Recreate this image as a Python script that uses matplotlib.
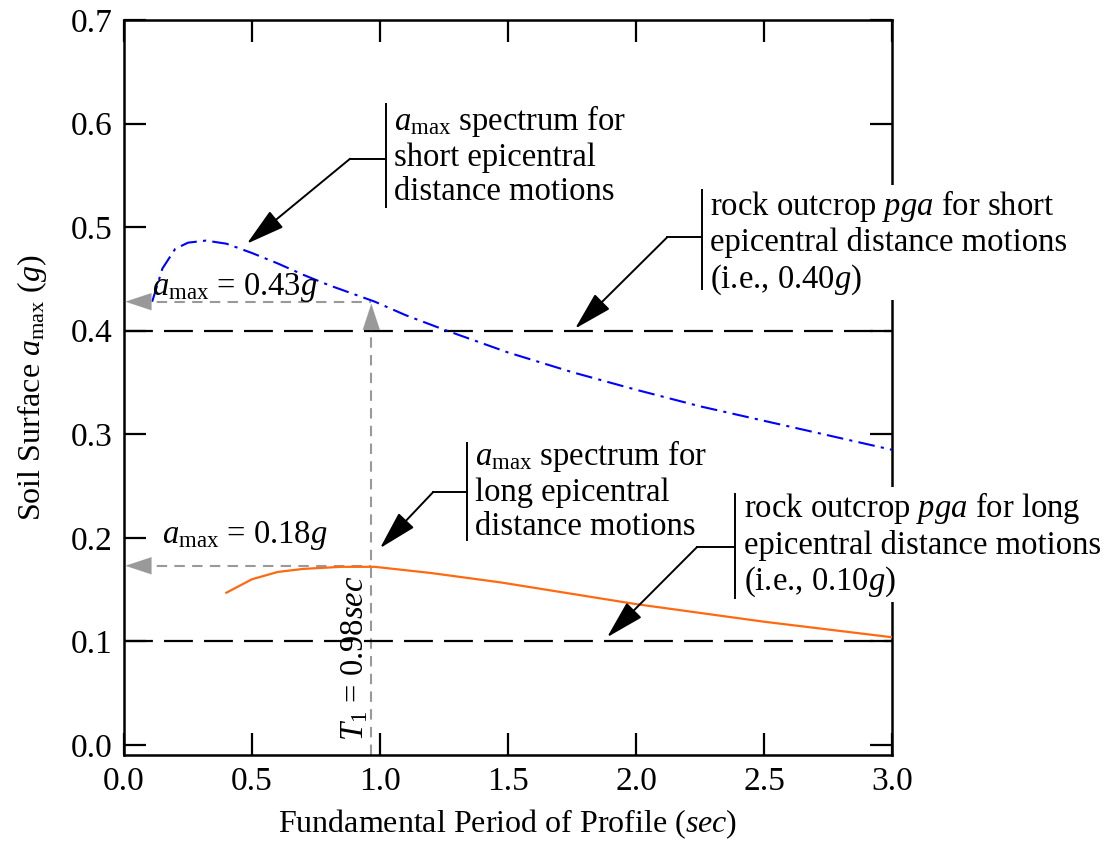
import matplotlib
matplotlib.use("Agg")
import matplotlib.pyplot as plt
import numpy as np

plt.rcParams['font.family'] = ['Liberation Serif', 'DejaVu Serif']
plt.rcParams['mathtext.fontset'] = 'custom'
plt.rcParams['mathtext.rm'] = 'Liberation Serif'
plt.rcParams['mathtext.it'] = 'Liberation Serif:italic'
plt.rcParams['mathtext.bf'] = 'Liberation Serif:bold'

# ---- data ----
short_T = [0.11, 0.15, 0.20, 0.25, 0.32, 0.40, 0.50, 0.60, 0.70, 0.80, 0.98, 1.10, 1.25,
           1.50, 1.75, 2.00, 2.25, 2.50, 2.75, 3.00]
short_amax = [0.428, 0.460, 0.479, 0.485, 0.487, 0.484, 0.475, 0.465, 0.454, 0.444, 0.428,
              0.415, 0.401, 0.379, 0.360, 0.343, 0.327, 0.313, 0.299, 0.285]

long_T = [0.40, 0.50, 0.60, 0.70, 0.85, 0.98, 1.20, 1.47, 2.00, 2.50, 3.00]
long_amax = [0.147, 0.160, 0.167, 0.170, 0.172, 0.172, 0.166, 0.157, 0.136, 0.119, 0.104]

rock_short = 0.40
rock_long = 0.10
T1 = 0.966
amax_short_T1 = 0.428
amax_long_T1 = 0.173

xticks = [0.0, 0.5, 1.0, 1.5, 2.0, 2.5, 3.0]
yticks = [0.0, 0.1, 0.2, 0.3, 0.4, 0.5, 0.6, 0.7]

FS = 23.5
TFS = 24
LFS = 23

fig = plt.figure(figsize=(11.02, 8.41), dpi=100)
ax = fig.add_axes([124/1102, 1-755/841, (892-124)/1102, (755-20)/841])
ax.set_xlim(0, 3.0)
ax.set_ylim(-0.0097, 0.7)

# reference lines
ax.plot([0, 3], [rock_short, rock_short], color='black', lw=1.6, ls=(0, (13, 5)), zorder=2)
ax.plot([0, 3], [rock_long, rock_long], color='black', lw=1.6, ls=(0, (13, 5)), zorder=2)

# spectra
ax.plot(short_T, short_amax, color='#0000FF', lw=1.5, ls=(0, (8, 3, 1.5, 3)), zorder=3, clip_on=False)
ax.plot(long_T, long_amax, color='#FF6A10', lw=1.6, zorder=3)

# gray dashed guides
gray = '#999999'
dls = (0, (5, 3.5))
ax.plot([T1, T1], [-0.0097, amax_short_T1 - 0.02], color=gray, lw=1.5, ls=dls, zorder=1)
ax.plot([0.06, T1], [amax_short_T1, amax_short_T1], color=gray, lw=1.5, ls=dls, zorder=1)
ax.plot([0.06, T1], [amax_long_T1, amax_long_T1], color=gray, lw=1.5, ls=dls, zorder=1)
head = dict(arrowstyle='-|>,head_length=0.85,head_width=0.28', color=gray, lw=0.1,
            mutation_scale=22, shrinkA=0, shrinkB=0)
ax.annotate('', xy=(0.005, amax_short_T1), xytext=(0.09, amax_short_T1), arrowprops=head)
ax.annotate('', xy=(0.005, amax_long_T1), xytext=(0.09, amax_long_T1), arrowprops=head)
ax.annotate('', xy=(T1, amax_short_T1 - 0.002), xytext=(T1, amax_short_T1 - 0.03), arrowprops=head)

ax.text(0.11, 0.434, r'$a_{\mathrm{max}}$ = 0.43$g$', fontsize=FS, ha='left', va='baseline')
ax.text(0.15, 0.195, r'$a_{\mathrm{max}}$ = 0.18$g$', fontsize=FS, ha='left', va='baseline')
ax.text(0.96, 0.004, r'$T_1$ = 0.98$sec$', fontsize=FS, rotation=90, ha='right', va='bottom')

# callouts
black_head = dict(arrowstyle='-|>,head_length=1.1,head_width=0.3', color='black', lw=1.4,
                  mutation_scale=22, shrinkA=0, shrinkB=0)

def callout(bar_x, bar_y0, bar_y1, elbow_x, elbow_y, tip, text_x, text_top, text):
    ax.plot([bar_x, bar_x], [bar_y0, bar_y1], color='black', lw=1.4, clip_on=False, zorder=5)
    ax.plot([elbow_x, bar_x], [elbow_y, elbow_y], color='black', lw=1.4, clip_on=False, zorder=5)
    ax.annotate('', xy=tip, xytext=(elbow_x, elbow_y), arrowprops=black_head, zorder=5)
    ax.text(text_x, text_top, text, fontsize=FS, ha='left', va='top', linespacing=1.15,
            zorder=6, bbox=dict(facecolor='white', edgecolor='none', pad=2))

callout(1.023, 0.619, 0.519, 0.883, 0.566, (0.48, 0.484), 1.055, 0.620,
        '$a_{\\mathrm{max}}$ spectrum for\nshort epicentral\ndistance motions')
callout(2.258, 0.536, 0.440, 2.121, 0.490, (1.762, 0.402), 2.29, 0.538,
        'rock outcrop $pga$ for short\nepicentral distance motions\n(i.e., 0.40$g$)')
callout(1.340, 0.292, 0.198, 1.207, 0.244, (1.0, 0.190), 1.372, 0.296,
        '$a_{\\mathrm{max}}$ spectrum for\nlong epicentral\ndistance motions')
callout(2.387, 0.242, 0.142, 2.238, 0.191, (1.887, 0.104), 2.42, 0.246,
        'rock outcrop $pga$ for long\nepicentral distance motions\n(i.e., 0.10$g$)')

ax.set_xticks(xticks)
ax.set_yticks(yticks)
ax.set_xticklabels([f'{v:.1f}' for v in xticks])
ax.set_yticklabels([f'{v:.1f}' for v in yticks])
ax.tick_params(direction='in', length=16, width=1.6, labelsize=TFS, top=True, right=True, pad=8)
for s in ax.spines.values():
    s.set_linewidth(1.8)

ax.set_xlabel('Fundamental Period of Profile ($sec$)', fontsize=LFS, labelpad=8)
ax.set_ylabel('Soil Surface $a_{\\mathrm{max}}$ ($g$)', fontsize=LFS, labelpad=16)

fig.savefig('out.png', dpi=100)
